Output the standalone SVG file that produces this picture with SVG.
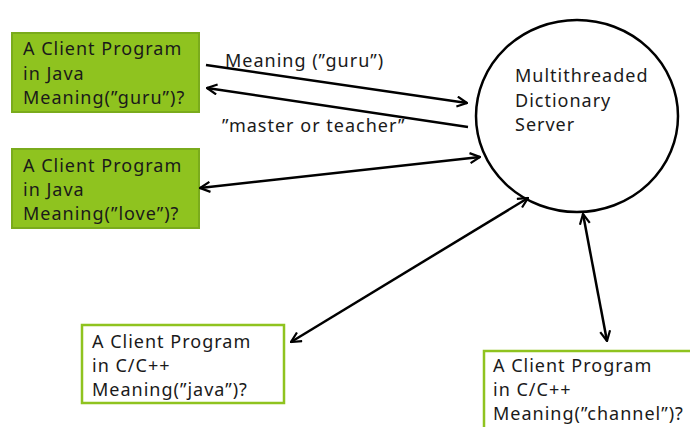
<svg xmlns="http://www.w3.org/2000/svg" width="690" height="427" viewBox="0 0 690 427">
<defs>
<style>
text{font-family:"Noto Sans","Open Sans",sans-serif;font-size:18px;letter-spacing:1px;fill:#1a1a1a}
.g{fill:#8fc31f;stroke:#7aab1c;stroke-width:2}
.w{fill:#fff;stroke:#8fc31f;stroke-width:2.5}
.c{stroke:#000;stroke-width:2.5;fill:none}
</style>
<marker id="ah" viewBox="0 0 12 12" refX="11" refY="6" markerWidth="12" markerHeight="12" markerUnits="userSpaceOnUse" orient="auto-start-reverse">
<polyline points="1,1 11,6 1,11" fill="none" stroke="#000" stroke-width="2.2"/>
</marker>
</defs>
<rect width="690" height="427" fill="#fff"/>
<g id="server">
<ellipse cx="577" cy="116" rx="101" ry="96" fill="#fff" stroke="#000" stroke-width="2.5"/>
<text x="515" y="82">Multithreaded</text>
<text x="515" y="107">Dictionary</text>
<text x="515" y="131">Server</text>
</g>
<g id="client1">
<rect class="g" x="12" y="33" width="187" height="79"/>
<text x="23" y="55">A Client Program</text>
<text x="23" y="80">in Java</text>
<text x="23" y="104">Meaning(”guru”)?</text>
</g>
<g id="client2">
<rect class="g" x="12" y="149" width="187" height="79"/>
<text x="23" y="172">A Client Program</text>
<text x="23" y="196">in Java</text>
<text x="23" y="220">Meaning(”love”)?</text>
</g>
<g id="client3">
<rect class="w" x="82" y="325" width="202" height="78"/>
<text x="92" y="348">A Client Program</text>
<text x="92" y="372">in C/C++</text>
<text x="92" y="396">Meaning(”java”)?</text>
</g>
<g id="client4">
<rect class="w" x="484" y="351" width="210" height="80"/>
<text x="493" y="372">A Client Program</text>
<text x="493" y="396">in C/C++</text>
<text x="493" y="420">Meaning(”channel”)?</text>
</g>
<g id="connectors">
<line class="c" x1="206" y1="65" x2="467" y2="103" marker-end="url(#ah)"/>
<line class="c" x1="468" y1="127" x2="207" y2="88" marker-end="url(#ah)"/>
<line class="c" x1="200" y1="188" x2="480" y2="157" marker-start="url(#ah)" marker-end="url(#ah)"/>
<line class="c" x1="291" y1="342" x2="528" y2="198" marker-start="url(#ah)" marker-end="url(#ah)"/>
<line class="c" x1="583" y1="214" x2="607" y2="341" marker-start="url(#ah)" marker-end="url(#ah)"/>
<text x="225" y="67">Meaning (”guru”)</text>
<text x="222" y="132">”master or teacher”</text>
</g>
</svg>
